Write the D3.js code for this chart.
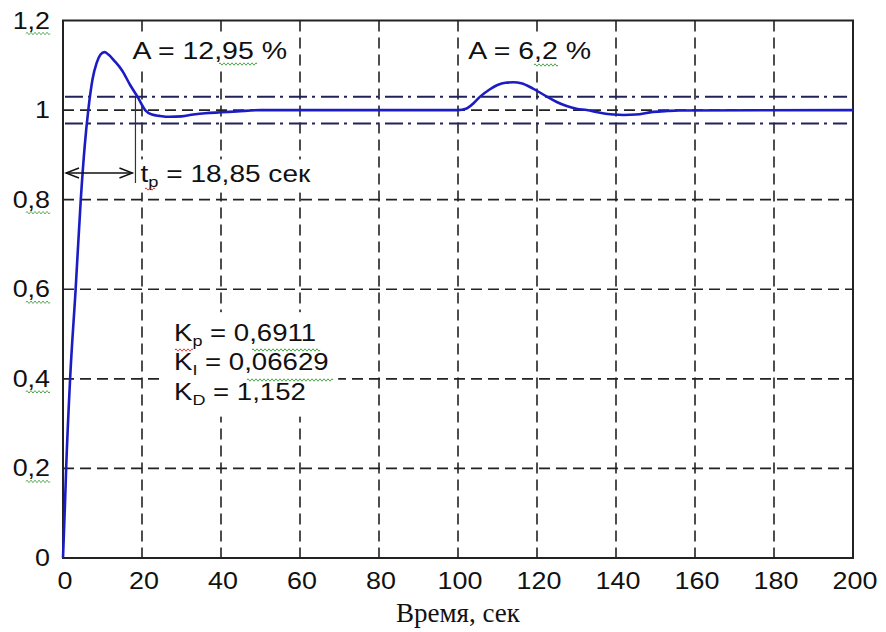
<!DOCTYPE html>
<html>
<head>
<meta charset="utf-8">
<script src="https://cdn.jsdelivr.net/npm/d3@7"></script>
<style>
  body { margin: 0; background: #fff; }
  svg { display: block; }
  .lbl { font-family: "Liberation Sans", Arial, sans-serif; fill: #111; }
  .cap { font-family: "Liberation Serif", "Times New Roman", serif; fill: #111; }
</style>
</head>
<body>
<svg id="chart" width="886" height="632"></svg>
<script>
// step response of the PID loop, time in seconds
const time = [0, 0.5, 0.8, 1.8, 3.2, 4.5, 5.5, 6.4, 7.5, 8.5, 9.5, 10.5, 11.5, 13, 15, 17, 18.85, 20.8, 22.5, 24.5, 27, 30, 33, 36, 40, 44, 50,
  100, 102, 104, 105.6, 108, 110, 112, 114, 116, 119, 122.5, 125, 127.5, 130, 132.6, 136, 139.3, 142, 145, 149.4, 153, 156, 200];
const response = [0, 0.12, 0.2, 0.4, 0.6, 0.8, 0.92, 1.0, 1.07, 1.105, 1.124, 1.1295, 1.124, 1.11, 1.088, 1.056, 1.03, 1.0, 0.99, 0.987, 0.985, 0.986, 0.99, 0.993, 0.995, 0.997, 1.0,
  1.0, 1.003, 1.016, 1.03, 1.046, 1.056, 1.061, 1.062, 1.06, 1.048, 1.03, 1.018, 1.009, 1.003, 1.0, 0.994, 0.99, 0.989, 0.99, 0.996, 0.998, 0.999, 1.0];

const xTicks = [0, 20, 40, 60, 80, 100, 120, 140, 160, 180, 200];
const yTicks = [0, 0.2, 0.4, 0.6, 0.8, 1, 1.2];
const band = [0.97, 1.03];          // settling band
const settleTime = 18.85;
const overshoot = [{ t: 17.6, text: "A = 12,95 %" }, { t: 102.6, text: "A = 6,2 %" }];
const gains = [
  { k: "K", sub: "p", val: " = 0,6911" },
  { k: "K", sub: "I", val: " = 0,06629" },
  { k: "K", sub: "D", val: " = 1,152" }
];

const svg = d3.select("#chart");
const x = d3.scaleLinear().domain([0, 200]).range([63, 853]);
const y = d3.scaleLinear().domain([0, 1.2]).range([558, 20.5]);
const fmt = v => String(v).replace(".", ",");

// grid
svg.append("g").selectAll("line").data(xTicks.slice(1, -1)).join("line")
  .attr("x1", d => x(d)).attr("x2", d => x(d))
  .attr("y1", y(1.2)).attr("y2", y(0))
  .attr("stroke", "#222").attr("stroke-width", 1.6).attr("stroke-dasharray", "11,6");
svg.append("g").selectAll("line").data(yTicks.slice(1, -1)).join("line")
  .attr("x1", x(0)).attr("x2", x(200))
  .attr("y1", d => y(d)).attr("y2", d => y(d))
  .attr("stroke", "#222").attr("stroke-width", 1.6).attr("stroke-dasharray", "11,6");

// band lines
svg.append("g").selectAll("line").data(band).join("line")
  .attr("x1", x(0) + 2).attr("x2", x(198.5))
  .attr("y1", d => y(d)).attr("y2", d => y(d))
  .attr("stroke", "#22225a").attr("stroke-width", 2).attr("stroke-dasharray", "18,5,3,6");

// frame
svg.append("rect")
  .attr("x", x(0)).attr("y", y(1.2))
  .attr("width", x(200) - x(0)).attr("height", y(0) - y(1.2))
  .attr("fill", "none").attr("stroke", "#222").attr("stroke-width", 2);

// text boxes with a white backing that hides the grid
function box(g, padX, padY) {
  const b = g.node().getBBox();
  g.insert("rect", ":first-child")
    .attr("x", b.x - padX).attr("y", b.y - padY)
    .attr("width", b.width + 2 * padX).attr("height", b.height + 2 * padY)
    .attr("fill", "#fff");
}

function squiggle(x0, y0, w, color) {
  let d = `M${x0},${y0}`;
  for (let i = 0; i < w; i += 2) d += ` l1,${i % 4 ? 1.2 : -1.2} l1,${i % 4 ? -1.2 : 1.2}`;
  svg.append("path").attr("d", d).attr("fill", "none").attr("stroke", color).attr("stroke-width", 0.9);
}

// overshoot annotations
overshoot.forEach(o => {
  const g = svg.append("g").attr("transform", `translate(${x(o.t)},59) scale(1.24,1)`);
  g.append("text").attr("class", "lbl").attr("font-size", 23).text(o.text);
  box(g, 4, 3);
});

// controller gains
const kg = svg.append("g").attr("transform", "translate(174,341) scale(1.2,1)");
gains.forEach((gn, i) => {
  const t = kg.append("text").attr("class", "lbl").attr("font-size", 23).attr("y", i * 29.5);
  t.append("tspan").text(gn.k);
  t.append("tspan").attr("font-size", 15).attr("dy", 5).text(gn.sub);
  t.append("tspan").attr("dy", -5).text(gn.val);
});
box(kg, 8, 8);

// settling time label
const tg = svg.append("g").attr("transform", `translate(${x(settleTime) + 3},182) scale(1.22,1)`);
const tp = tg.append("text").attr("class", "lbl").attr("font-size", 23);
tp.append("tspan").text("t");
tp.append("tspan").attr("font-size", 15).attr("dy", 5).text("p");
tp.append("tspan").attr("dy", -5).text(" = 18,85 сек");
box(tg, 2, 2);

// response curve
const line = d3.line().x((d, i) => x(time[i])).y(d => y(d)).curve(d3.curveMonotoneX);
svg.append("path").datum(response)
  .attr("d", line)
  .attr("fill", "none").attr("stroke", "#1c1cc4").attr("stroke-width", 2.6);

// settling time marker
const yArrow = 173;
svg.append("line")
  .attr("x1", x(settleTime) - 2).attr("x2", x(settleTime) - 2)
  .attr("y1", y(1.03)).attr("y2", 183)
  .attr("stroke", "#333").attr("stroke-width", 1.2);
svg.append("line")
  .attr("x1", x(0) + 3).attr("x2", x(settleTime) - 5)
  .attr("y1", yArrow).attr("y2", yArrow)
  .attr("stroke", "#111").attr("stroke-width", 1.4);
svg.append("path")
  .attr("d", `M${x(0) + 16},${yArrow - 5} L${x(0) + 3},${yArrow} L${x(0) + 16},${yArrow + 5}` +
    ` M${x(settleTime) - 18},${yArrow - 5} L${x(settleTime) - 5},${yArrow} L${x(settleTime) - 18},${yArrow + 5}`)
  .attr("fill", "none").attr("stroke", "#111").attr("stroke-width", 1.4);

// tick labels
svg.append("g").selectAll("text").data(yTicks).join("text")
  .attr("class", "lbl").attr("font-size", 24).attr("text-anchor", "end")
  .attr("transform", d => `translate(50,${y(d) + 8}) scale(1.12,1)`)
  .text(fmt);
svg.append("g").selectAll("text").data(xTicks).join("text")
  .attr("class", "lbl").attr("font-size", 24).attr("text-anchor", "middle")
  .attr("transform", d => `translate(${x(d) + 2},589) scale(1.12,1)`)
  .text(d => d);

// x axis caption
svg.append("text").attr("class", "cap").attr("font-size", 27)
  .attr("x", 458).attr("y", 622).attr("text-anchor", "middle")
  .text("Время, сек");

// spell-check squiggles
yTicks.filter(d => d > 0 && d !== 1).forEach(d => squiggle(26, y(d) + 13, 24, "#3a9a3a"));
squiggle(219, 64, 38, "#3a9a3a");
squiggle(534, 65, 24, "#3a9a3a");
squiggle(145, 189, 10, "#d03030");
squiggle(175, 350, 18, "#d03030");
squiggle(252, 350, 68, "#3a9a3a");
squiggle(247, 380, 86, "#3a9a3a");
</script>
</body>
</html>
